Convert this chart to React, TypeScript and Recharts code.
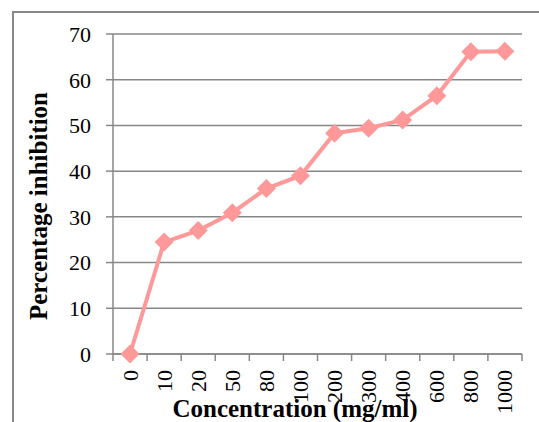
import { LineChart, Line, XAxis, YAxis, CartesianGrid } from 'recharts'

const concentrations = ['0', '10', '20', '50', '80', '100', '200', '300', '400', '600', '800', '1000']
const inhibition = [0, 24.5, 27, 30.9, 36.2, 39, 48.3, 49.4, 51.2, 56.5, 66.1, 66.2]
const yTicks = [0, 10, 20, 30, 40, 50, 60, 70]

const WIDTH = 539
const HEIGHT = 422
const PLOT_LEFT = 113
const PLOT_RIGHT = 522
const BAND = (PLOT_RIGHT - PLOT_LEFT) / concentrations.length

const FONT = '"Liberation Serif", "Times New Roman", serif'
const AXIS_GRAY = '#878787'
const PINK = '#FF9999'

// categories sit between the tick marks, so use a numeric axis with ticks on the band edges
const data = concentrations.map((c, i) => ({ pos: i + 0.5, label: c, value: inhibition[i] }))
const bandEdges = concentrations.map((_, i) => i).concat(concentrations.length)

function CategoryTick(props: any) {
  const { x, y, payload } = props
  const idx = payload.value
  if (idx >= concentrations.length) return null
  const cx = x + BAND / 2
  return (
    <text
      x={cx}
      y={y}
      transform={`rotate(-90, ${cx}, ${y})`}
      textAnchor="end"
      dominantBaseline="central"
      fontFamily={FONT}
      fontSize={22}
      fill="#000"
    >
      {concentrations[idx]}
    </text>
  )
}

function Diamond(props: any) {
  const { cx, cy } = props
  if (cx == null || cy == null) return null
  const r = 9.5
  return <polygon points={`${cx},${cy - r} ${cx + r},${cy} ${cx},${cy + r} ${cx - r},${cy}`} fill={PINK} />
}

export default function App() {
  return (
    <div style={{ position: 'fixed', left: 0, top: 0, width: WIDTH, height: HEIGHT, overflow: 'hidden', background: '#fff' }}>
      {/* chart frame, its right and bottom edges run off the page */}
      <div
        style={{
          position: 'absolute',
          left: 12,
          top: 11,
          width: WIDTH,
          height: HEIGHT,
          borderTop: `2px solid ${AXIS_GRAY}`,
          borderLeft: `2px solid ${AXIS_GRAY}`,
        }}
      />
      <LineChart
        width={WIDTH}
        height={HEIGHT}
        data={data}
        margin={{ top: 34, right: WIDTH - PLOT_RIGHT, left: 0, bottom: 0 }}
        style={{ position: 'absolute', left: 0, top: 0 }}
      >
        <CartesianGrid vertical={false} stroke={AXIS_GRAY} strokeWidth={1.5} />
        <XAxis
          dataKey="pos"
          type="number"
          domain={[0, concentrations.length]}
          ticks={bandEdges}
          interval={0}
          height={HEIGHT - 354}
          stroke={AXIS_GRAY}
          strokeWidth={1.5}
          tickSize={7}
          tickMargin={9}
          tick={<CategoryTick />}
          label={{
            content: () => (
              <text x={295} y={417} textAnchor="middle" fontFamily={FONT} fontSize={25} fontWeight="bold" fill="#000">
                Concentration (mg/ml)
              </text>
            ),
          }}
        />
        <YAxis
          domain={[0, 70]}
          ticks={yTicks}
          interval={0}
          width={PLOT_LEFT}
          stroke={AXIS_GRAY}
          strokeWidth={1.5}
          tickSize={7}
          tickMargin={15}
          tick={{ fontFamily: FONT, fontSize: 22, fill: '#000' }}
          label={{
            content: () => (
              <text
                x={38}
                y={206}
                transform="rotate(-90, 38, 206)"
                textAnchor="middle"
                dominantBaseline="central"
                fontFamily={FONT}
                fontSize={25}
                fontWeight="bold"
                fill="#000"
              >
                Percentage inhibition
              </text>
            ),
          }}
        />
        <Line
          type="linear"
          dataKey="value"
          stroke={PINK}
          strokeWidth={4}
          dot={<Diamond />}
          activeDot={false}
          isAnimationActive={false}
        />
      </LineChart>
    </div>
  )
}
